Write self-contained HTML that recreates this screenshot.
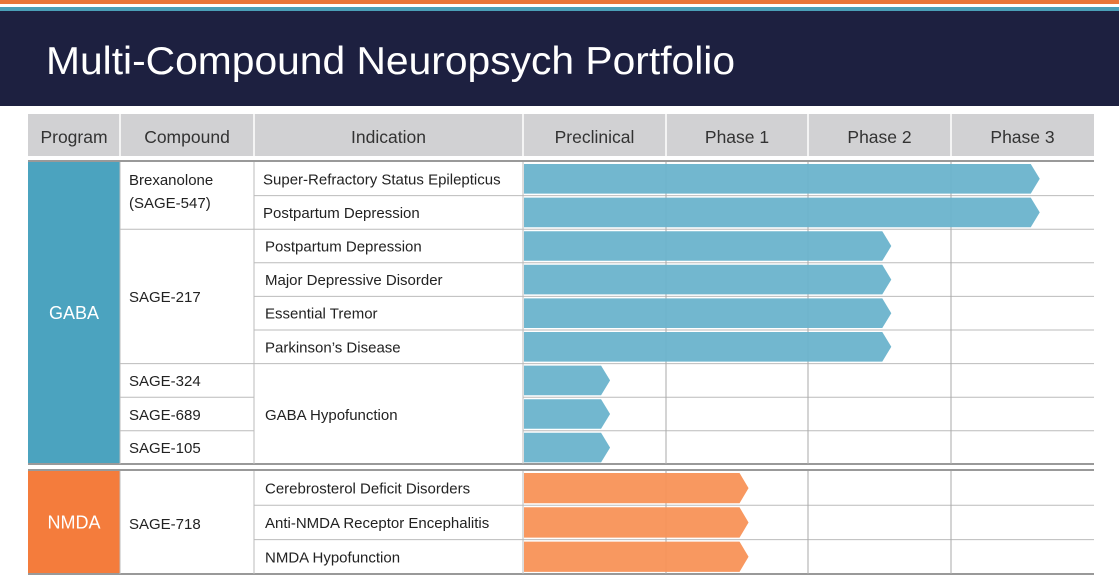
<!DOCTYPE html>
<html><head><meta charset="utf-8"><style>
html,body{margin:0;padding:0;background:#fff;}
body{width:1119px;height:581px;overflow:hidden;position:relative;font-family:"Liberation Sans",sans-serif;}
svg text{font-family:"Liberation Sans",sans-serif;}
</style></head><body>
<svg id="chart" width="1119" height="581" viewBox="0 0 1119 581">
<rect x="0" y="0" width="1119" height="4" fill="#e8763a"/>
<rect x="0" y="4" width="1119" height="3" fill="#ffffff"/>
<rect x="0" y="7" width="1119" height="4" fill="#4a9fb8"/>
<rect x="0" y="11" width="1119" height="95" fill="#1d2040"/>
<text x="46" y="74" font-size="39" fill="#ffffff" textLength="689" lengthAdjust="spacingAndGlyphs">Multi-Compound Neuropsych Portfolio</text>
<g id="grid"></g>
<g id="bars"></g>
<g id="labels"></g>
</svg>
<script>
const phases = ["Preclinical","Phase 1","Phase 2","Phase 3"];
const indications = ["Super-Refractory Status Epilepticus","Postpartum Depression","Postpartum Depression","Major Depressive Disorder","Essential Tremor","Parkinson’s Disease","GABA Hypofunction","GABA Hypofunction","GABA Hypofunction","Cerebrosterol Deficit Disorders","Anti-NMDA Receptor Encephalitis","NMDA Hypofunction"];
const programs = ["GABA","GABA","GABA","GABA","GABA","GABA","GABA","GABA","GABA","NMDA","NMDA","NMDA"];
const progress = [3.62,3.62,2.58,2.58,2.58,2.58,0.61,0.61,0.61,1.58,1.58,1.58];

const NS="http://www.w3.org/2000/svg";
const grid=document.getElementById('grid'), bars=document.getElementById('bars'), labels=document.getElementById('labels');
function mk(tag,attrs,parent){const e=document.createElementNS(NS,tag);for(const k in attrs)e.setAttribute(k,attrs[k]);parent.appendChild(e);return e;}
const X0=523, PW=142.75;
function xScale(v){return X0+v*PW;}
const rowTops=[162,195.6,229.2,262.8,296.4,330,363.6,397.2,430.8,471,505.3,539.6];
const rowH=i=>(i<9?33.6:34.3);

const cols=[28,120,254,523,666,808,951,1094];
const hdr=["Program","Compound","Indication"].concat(phases);
let r=mk('rect',{x:28,y:114,width:1066,height:42,fill:'#d1d1d3'},grid);


for(let i=0;i<7;i++){
  if(i>0){mk('line',{x1:cols[i],x2:cols[i],y1:114,y2:156,stroke:'#ffffff','stroke-width':1.5},grid);}
  let t=mk('text',{x:(cols[i]+cols[i+1])/2,y:143,'font-size':17.5,fill:'#333','text-anchor':'middle'},labels);
  t.textContent=hdr[i];
  
  
}
const blocks=[{name:"GABA",y:162,h:302,c:'#4ba3bf'},{name:"NMDA",y:471,h:103,c:'#f47c3c'}];
blocks.forEach(b=>{
  let e=mk('rect',{x:28,y:b.y,width:92,height:b.h,fill:b.c},grid);
  
  
  let t=mk('text',{x:74,y:b.y+b.h/2+6,'font-size':18,fill:'#fff','text-anchor':'middle'},labels);
  t.textContent=b.name;
  
  
  mk('line',{x1:28,x2:1094,y1:b.y-1,y2:b.y-1,stroke:'#999','stroke-width':2},grid);
  mk('line',{x1:28,x2:1094,y1:b.y+b.h,y2:b.y+b.h,stroke:'#999','stroke-width':2},grid);
});
for(let i=0;i<12;i++){
  const y=rowTops[i];
  if(i!==0&&i!==9){
    let x1=254;
    if(i===2||i===6) x1=120;
    if(i===7||i===8) { mk('line',{x1:120,x2:254,y1:y,y2:y,stroke:'#bbb','stroke-width':1},grid); x1=523; }
    mk('line',{x1:x1,x2:1094,y1:y,y2:y,stroke:'#bbb','stroke-width':1},grid);
  }
}
[[120,162,464],[254,162,464],[523,162,464],[120,471,574],[254,471,574],[523,471,574]].forEach(v=>mk('line',{x1:v[0],x2:v[0],y1:v[1],y2:v[2],stroke:'#bbb','stroke-width':1},grid));
[666,808,951].forEach(x=>{mk('line',{x1:x,x2:x,y1:162,y2:464,stroke:'#aaa','stroke-width':1},grid);mk('line',{x1:x,x2:x,y1:471,y2:574,stroke:'#aaa','stroke-width':1},grid);});
const comps=[["Brexanolone",185],["(SAGE-547)",208],["SAGE-217",302],["SAGE-324",386],["SAGE-689",420],["SAGE-105",453],["SAGE-718",529]];
comps.forEach(c=>{let t=mk('text',{x:129,y:c[1],'font-size':15,fill:'#222'},labels);t.textContent=c[0];
  
  });
for(let i=0;i<12;i++){
  const y=rowTops[i],h=rowH(i);
  if(!(i===6||i===8)){
    let ty=(i===7)?420:y+h/2+5.5;
    let t=mk('text',{x:i<2?263:265,y:ty,'font-size':15,fill:'#222'},labels);
    t.textContent=indications[i];
    
    
  }
  const xe=xScale(progress[i]), y1=y+2, y2=y+h-2, ym=(y1+y2)/2;
  const col=programs[i]==="GABA"?'#6ab3cc':'#f89257';
  let p=mk('polygon',{points:`${X0+1},${y1} ${xe-9},${y1} ${xe},${ym} ${xe-9},${y2} ${X0+1},${y2}`,fill:col,'fill-opacity':0.95},bars);
  
  
}
</script>
</body></html>
